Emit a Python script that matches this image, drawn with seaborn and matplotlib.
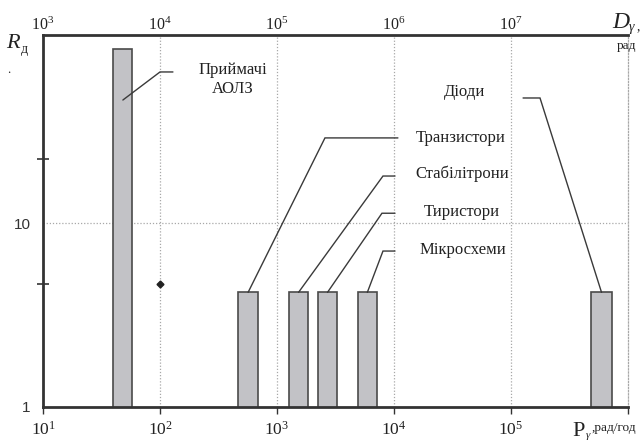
import numpy as np
import matplotlib
matplotlib.use("Agg")
import matplotlib.pyplot as plt
import matplotlib.ticker as mticker
import seaborn as sns

# Device groups: failure-rate range (bottom axis) and dose ratio R_д
labels = ["Приймачі\nАОЛЗ", "Транзистори", "Стабілітрони", "Тиристори", "Мікросхеми", "Діоди"]
p_lo = [40, 465, 1270, 2240, 4900, 483000]
p_hi = [58, 690, 1840, 3260, 7150, 730000]
r_val = [88, 4.2, 4.2, 4.2, 4.2, 4.2]

bottom_ticks = [1e1, 1e2, 1e3, 1e4, 1e5, 1e6]
bottom_tick_labels = [r"$\mathdefault{10^{%d}}$" % k for k in range(1, 6)] + [""]
top_ticks = [1e3, 1e4, 1e5, 1e6, 1e7]
top_tick_labels = [r"$\mathdefault{10^{%d}}$" % k for k in range(3, 8)]
y_ticks = [1, 10]
y_tick_labels = ["1", "10"]
y_minor = [1, 4.66, 22.3]

# Callout layout: (text x, text y, elbow x, elbow y, line end x, start y on bar)
callouts = [
    (421, 59.9, 100, 66.2, 129, 46.6),
    (37400, 29.0, 2570, 29.0, 10800, None),
    (38100, 18.5, 8050, 18.0, 10200, None),
    (38000, 11.5, 7890, 11.3, 10200, None),
    (38500, 7.13, 8050, 7.04, 10200, None),
    (40400, 51.5, 177000, 47.8, 126800, None),
]

sns.set_style("white")
plt.rcParams["font.family"] = ["Liberation Serif", "DejaVu Serif"]
plt.rcParams["mathtext.fontset"] = "custom"
plt.rcParams["mathtext.rm"] = "Liberation Serif"
plt.rcParams["mathtext.it"] = "Liberation Serif:italic"

W, H = 644, 441
fig = plt.figure(figsize=(W / 100, H / 100), dpi=100)
ax = fig.add_axes([43 / W, 1 - 407 / H, (628 - 43) / W, (407 - 35) / H])

ax.set_xscale("log")
ax.set_yscale("log")
ax.set_xlim(1e1, 1e6)
ax.set_ylim(1, 10 ** ((407 - 35) / 184))

dark = "#333333"
grid_c = "#a8a8a8"

# grid: dotted decade lines and the 10 level
for gx in bottom_ticks[1:-1]:
    ax.axvline(gx, color=grid_c, lw=0.9, ls=(0, (1, 1.5)), zorder=0)
ax.axhline(10, color=grid_c, lw=0.9, ls=(0, (1, 1.5)), zorder=0)

# bars spanning [p_lo, p_hi] on the log axis
widths = [h - l for l, h in zip(p_lo, p_hi)]
ax.bar(p_lo, r_val, width=widths, align="edge", bottom=0,
       color="#c2c2c6", edgecolor="#4a4a4a", linewidth=1.2, zorder=2)

# marker on the 10^2 line
ax.plot([100], [4.66], marker="D", ms=3.5, color="#222222", zorder=3)

# callout leaders and texts
for i, (tx, ty, ex, ey, lx, sy) in enumerate(callouts):
    cx = np.sqrt(p_lo[i] * p_hi[i])
    cy = r_val[i] if sy is None else sy
    ax.plot([cx, ex, lx], [cy, ey, ey], color="#3a3a3a", lw=1.0, zorder=3,
            solid_joinstyle="miter")
    ax.text(tx, ty, labels[i], ha="center", va="center", fontsize=12,
            color="#222222", linespacing=1.25)

# spines
for s in ["left", "bottom", "top"]:
    ax.spines[s].set_color(dark)
    ax.spines[s].set_linewidth(2.0)
ax.spines["right"].set_color(grid_c)
ax.spines["right"].set_linewidth(0.9)
ax.spines["right"].set_linestyle((0, (1, 1.5)))

# bottom axis ticks
ax.xaxis.set_major_locator(mticker.FixedLocator(bottom_ticks))
ax.xaxis.set_major_formatter(mticker.FixedFormatter(bottom_tick_labels))
ax.xaxis.set_minor_locator(mticker.NullLocator())
ax.tick_params(axis="x", which="major", direction="out", length=5, width=1.0,
               color=dark, labelsize=12.5, pad=5, labelcolor="#222222",
               bottom=True, top=False)

# left axis ticks
ax.yaxis.set_major_locator(mticker.FixedLocator(y_ticks))
ax.yaxis.set_major_formatter(mticker.FixedFormatter(y_tick_labels))
ax.yaxis.set_minor_locator(mticker.FixedLocator(y_minor))
ax.yaxis.set_minor_formatter(mticker.NullFormatter())
ax.tick_params(axis="y", which="major", length=0, pad=9, labelsize=11,
               labelcolor="#333333")
ax.tick_params(axis="y", which="minor", direction="inout", length=8,
               width=1.2, color=dark, left=True)
for lab in ax.get_yticklabels():
    lab.set_fontfamily("Liberation Sans")

# top axis: same positions scaled by 100
secax = ax.secondary_xaxis("top", functions=(lambda x: x * 100, lambda x: x / 100))
secax.xaxis.set_major_locator(mticker.FixedLocator(top_ticks))
secax.xaxis.set_major_formatter(mticker.FixedFormatter(top_tick_labels))
secax.xaxis.set_minor_locator(mticker.NullLocator())
secax.tick_params(axis="x", length=0, pad=1, labelsize=11.5, labelcolor="#222222")
secax.spines["top"].set_visible(False)

# axis titles
def ftext(px, py, s, **kw):
    fig.text(px / W, 1 - py / H, s, **kw)

ftext(6, 43, "R", fontsize=16, style="italic", ha="left", va="center", color="#222222")
ftext(21, 50, "д", fontsize=10, ha="left", va="center", color="#222222")
ftext(9, 70, ".", fontsize=9, ha="center", va="center", color="#222222")

ftext(612, 23, "D", fontsize=17, style="italic", ha="left", va="center", color="#222222")
ftext(629, 28, "γ", fontsize=10, style="italic", ha="left", va="center", color="#222222")
ftext(637, 27, ",", fontsize=10, ha="left", va="center", color="#222222")
ftext(617, 46, "рад", fontsize=9.5, ha="left", va="center", color="#222222")

ftext(572, 431, "P", fontsize=16, ha="left", va="center", color="#222222")
ftext(586, 435, "γ", fontsize=8, style="italic", ha="left", va="center", color="#222222")
ftext(592, 428, ",рад/год", fontsize=9.5, ha="left", va="center", color="#222222")

fig.savefig("out.png", dpi=100)
